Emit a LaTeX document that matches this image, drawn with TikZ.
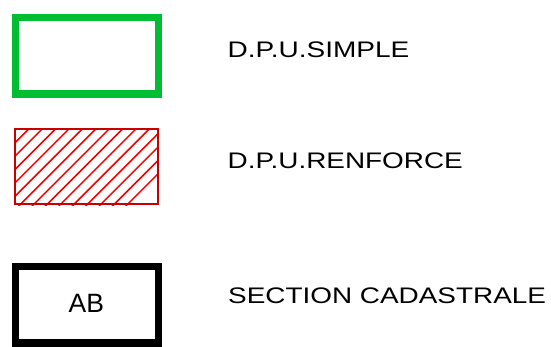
\documentclass[tikz,border=0pt]{standalone}
\usepackage{fontspec}
\setmainfont{Liberation Sans}
\definecolor{dpugreen}{RGB}{0,190,50}
\definecolor{hatchred}{RGB}{240,0,0}
\definecolor{borderred}{RGB}{200,0,0}
\begin{document}
\begin{tikzpicture}[x=1pt,y=-1pt,
  label/.style={anchor=west,inner sep=0pt,font=\fontsize{22.5}{22.5}\selectfont},
  simplebox/.style={draw=dpugreen,line width=7.5pt},
  cadbox/.style={draw=black,line width=7.5pt},
  renfbox/.style={draw=borderred,line width=1.8pt},
  hatchline/.style={draw=hatchred,line width=1.5pt}]
\useasboundingbox (0,0) rectangle (551,346);
% green box
\draw[simplebox] (15.5,17.5) rectangle (158.5,94);
\node[label] (t1) at (227.5,49.5) {\scalebox{1.245}[1]{D.P.U.SIMPLE}};
% red hatched box
\begin{scope}
\clip (14.7,128.3) rectangle (158.7,205);
\foreach \k in {-8,...,14}{
  \pgfmathsetmacro{\xa}{16+13.4*\k-150}
  \pgfmathsetmacro{\xb}{16+13.4*\k+150}
  \draw[hatchline] (\xa,278.3) -- (\xb,-21.7);
}
\end{scope}
\draw[renfbox] (15.3,129) rectangle (158,204.2);
\node[label] (t2) at (227.5,160.5) {\scalebox{1.24}[1]{D.P.U.RENFORCE}};
% black box
\draw[cadbox] (15.5,266.5) rectangle (158.5,343);
\node[inner sep=0pt,font=\fontsize{26.5}{26.5}\selectfont] (ab) at (86.3,303.8) {AB};
\node[label] (t3) at (228,296) {\scalebox{1.24}[1]{SECTION CADASTRALE}};
\end{tikzpicture}
\end{document}
